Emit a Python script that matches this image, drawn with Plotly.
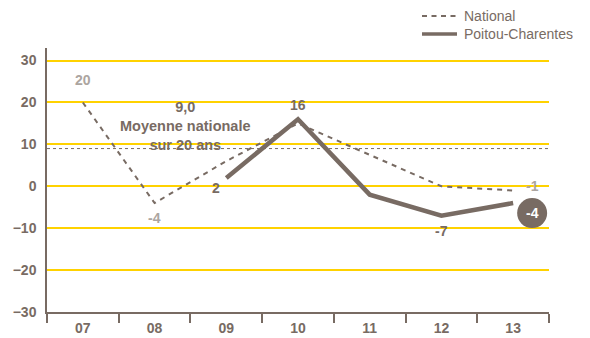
import plotly.graph_objects as go

years = ["07", "08", "09", "10", "11", "12", "13"]
national = [20, -4, 6, 15, 7.5, 0, -1]
poitou = [None, None, 2, 16, -2, -7, -4]
national_labels = ["20", "-4", None, None, None, None, "-1"]
poitou_labels = [None, None, "2", "16", None, "-7", "-4"]
avg_value = 9.0
avg_text = "9,0<br>Moyenne nationale<br>sur 20 ans"
y_ticks = [-30, -20, -10, 0, 10, 20, 30]

BROWN = "#786b63"
GRAY = "#aca5a0"
YELLOW = "#FFD200"
FONT = "Liberation Sans, Arial, sans-serif"

fig = go.Figure()
fig.add_trace(go.Scatter(x=years, y=national, mode="lines", name="National",
                         line=dict(color=BROWN, width=2, dash="5px,5px"), showlegend=False))
fig.add_trace(go.Scatter(x=years, y=poitou, mode="lines", name="Poitou-Charentes",
                         line=dict(color=BROWN, width=4.5), showlegend=False))

# average line
fig.add_shape(type="line", xref="paper", x0=0, x1=1, yref="y", y0=avg_value, y1=avg_value,
              line=dict(color=BROWN, width=1, dash="dot"))

fig.add_annotation(x=1.43, y=avg_value, xref="x", yref="y", yanchor="middle",
                   text=avg_text, showarrow=False, yshift=23, align="center",
                   font=dict(family=FONT, size=14.5, color=BROWN, weight="bold"))

# national value labels
nat_shift = {0: (0, 22), 1: (0, -15), 6: (19, 4)}
for i, lab in enumerate(national_labels):
    if lab is None:
        continue
    dx, dy = nat_shift[i]
    fig.add_annotation(x=i, y=national[i], xref="x", yref="y", text=lab, showarrow=False,
                       xshift=dx, yshift=dy,
                       font=dict(family=FONT, size=14, color=GRAY, weight="bold"))

# poitou labels
poi_shift = {2: (-10, -10), 3: (0, 14), 5: (0, -15)}
for i, lab in enumerate(poitou_labels):
    if lab is None or i == 6:
        continue
    dx, dy = poi_shift[i]
    fig.add_annotation(x=i, y=poitou[i], xref="x", yref="y", text=lab, showarrow=False,
                       xshift=dx, yshift=dy,
                       font=dict(family=FONT, size=14, color=BROWN, weight="bold"))

# last value in circle
fig.add_shape(type="circle", xref="x", yref="y", xsizemode="pixel", ysizemode="pixel",
              xanchor=6, yanchor=poitou[6], x0=4, x1=34, y0=-25, y1=5,
              fillcolor=BROWN, line=dict(width=0))
fig.add_annotation(x=6, y=poitou[6], xref="x", yref="y", text=poitou_labels[6], showarrow=False,
                   xshift=19, yshift=-10,
                   font=dict(family=FONT, size=14, color="white", weight="bold"))

# manual legend (paper coords; plot area 47..549 x, 48..312 y)
def px_x(p):
    return (p - 47) / 502.0

def px_y(p):
    return (312 - p) / 264.0

fig.add_shape(type="line", xref="paper", yref="paper", x0=px_x(422), x1=px_x(457),
              y0=px_y(16), y1=px_y(16), line=dict(color=BROWN, width=2, dash="5px,4.5px"))
fig.add_shape(type="line", xref="paper", yref="paper", x0=px_x(422), x1=px_x(457),
              y0=px_y(34), y1=px_y(34), line=dict(color=BROWN, width=3.5))
for lab, yy in (("National", 16), ("Poitou-Charentes", 34)):
    fig.add_annotation(xref="paper", yref="paper", x=px_x(462), y=px_y(yy), text=lab,
                       showarrow=False, xanchor="left", yanchor="middle",
                       font=dict(family=FONT, size=14, color=BROWN))

fig.update_layout(
    width=590, height=338,
    margin=dict(l=47, r=41, t=48, b=26, autoexpand=False),
    plot_bgcolor="white", paper_bgcolor="white",
    font=dict(family=FONT, color=BROWN),
    showlegend=False,
    xaxis=dict(type="category", range=[-0.5, 6.5], showgrid=False, automargin=False,
               showline=True, linecolor=BROWN, linewidth=1.5,
               ticks="outside", tickson="boundaries", ticklen=9, tickcolor=BROWN, tickwidth=1.5,
               ticklabelstandoff=2,
               tickfont=dict(family=FONT, size=14, color=BROWN, weight="bold")),
    yaxis=dict(range=[-30, 33], tickvals=y_ticks, showgrid=True, gridcolor=YELLOW, gridwidth=1.5,
               zeroline=False, showline=True, linecolor=BROWN, linewidth=1.5, automargin=False,
               ticks="", ticklabelstandoff=6,
               tickfont=dict(family=FONT, size=14, color=BROWN, weight="bold")),
)

fig.write_html("out.html", config={"displayModeBar": False},
               post_script="document.body.style.margin='0';document.body.style.overflow='hidden';")
